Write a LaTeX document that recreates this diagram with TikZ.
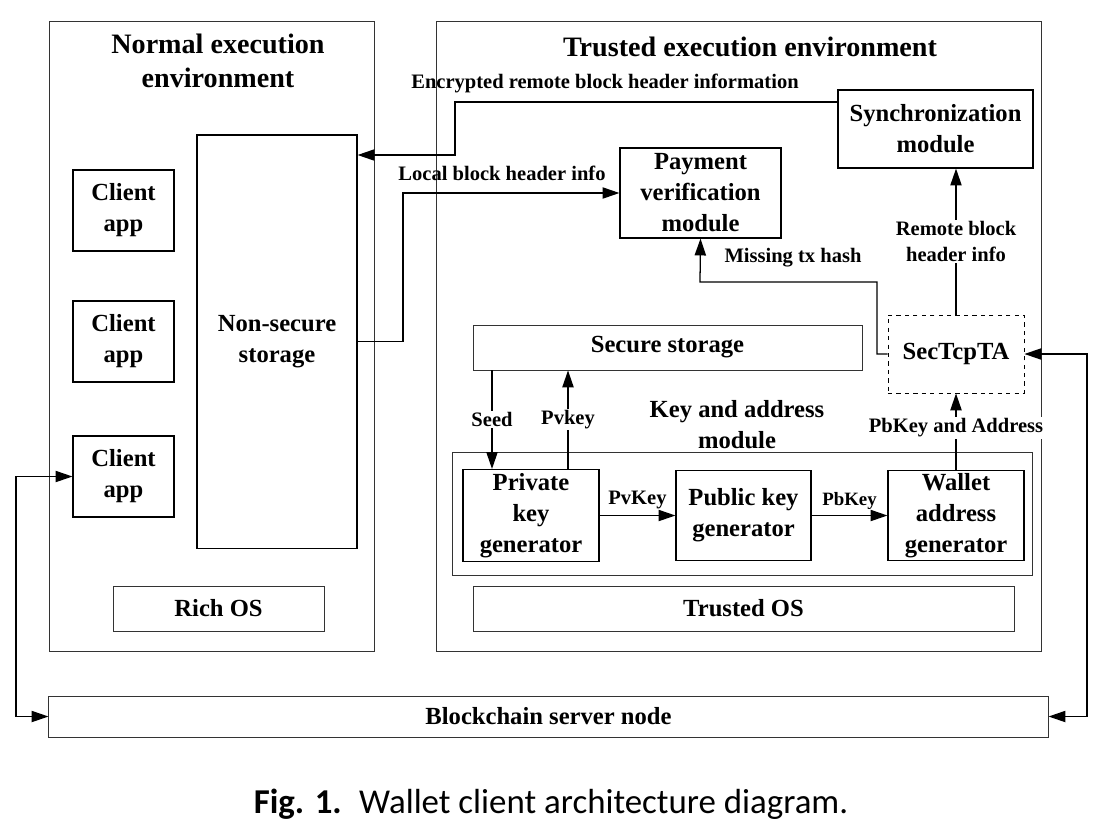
\documentclass[tikz,border=0pt]{standalone}
\usepackage{fontspec}
\setmainfont{Liberation Serif}
\newfontfamily\capfont{Carlito}
\usetikzlibrary{arrows.meta}

\begin{document}
\begin{tikzpicture}[x=0.025cm,y=-0.025cm,line width=0.9pt,
        >={Triangle[length=12pt,width=8pt]},
        frame/.style={draw=black!80,line width=0.6pt,inner sep=0pt},
        box/.style={draw,line width=0.8pt,inner sep=0pt,align=center,
          font=\fontsize{17.5}{22}\selectfont\bfseries},
        lbl/.style={inner sep=1pt,align=center,
          font=\fontsize{14.6}{18}\selectfont\bfseries},
        ttl/.style={align=center,font=\fontsize{20}{24}\selectfont\bfseries}]
  \useasboundingbox (0,0) rectangle (1102,837);
  \node[frame,minimum width=8.125cm,minimum height=15.75cm] (normal) at (211.5,336) {};
  \node[frame,minimum width=15.125cm,minimum height=15.75cm] (trusted) at (738.5,336) {};
  \node[ttl] (normaltitle) at (218,61) {Normal execution\\environment};
  \node[ttl] (trustedtitle) at (750,47) {Trusted execution environment};
  \node[box,minimum width=2.525cm,minimum height=2.025cm] (client1) at (123.5,210.5) {Client\\app};
  \node[box,minimum width=2.525cm,minimum height=2.025cm] (client2) at (123.5,341.5) {Client\\app};
  \node[box,minimum width=2.525cm,minimum height=2.025cm] (client3) at (123.5,476.5) {Client\\app};
  \node[box,minimum width=4cm,minimum height=10.325cm] (nonsec) at (277,341.5) {Non-secure\\storage};
  \node[box,frame,font=\fontsize{17.5}{22}\selectfont\bfseries,minimum width=5.275cm,minimum height=1.125cm] (richos) at (218.5,608.5) {Rich OS};
  \node[box,minimum width=4.875cm,minimum height=1.95cm] (sync) at (935.5,129) {Synchronization\\module};
  \node[box,minimum width=4.025cm,minimum height=2.25cm] (payment) at (700.5,193) {Payment\\verification\\module};
  \node[box,frame,font=\fontsize{17.5}{22}\selectfont\bfseries,minimum width=9.725cm,minimum height=1.125cm] (secure) at (667.5,347.5) {Secure storage};
  \node[box,dashed,line width=0.6pt,minimum width=3.4cm,minimum height=1.95cm] (sectcp) at (956,354) {SecTcpTA};
  \node[frame,minimum width=14.5cm,minimum height=3.075cm] (kabox) at (742,513.5) {};
  \node[ttl,font=\fontsize{17.5}{22}\selectfont\bfseries] (katitle) at (737,425) {Key and address\\module};
  \node[box,minimum width=3.4cm,minimum height=2.3cm] (privkey) at (531,515.5) {Private\\key\\generator};
  \node[box,minimum width=3.375cm,minimum height=2.25cm] (pubkey) at (743.5,515.5) {Public key\\generator};
  \node[box,minimum width=3.4cm,minimum height=2.25cm] (wallet) at (956,515.5) {Wallet\\address\\generator};
  \node[box,frame,font=\fontsize{17.5}{22}\selectfont\bfseries,minimum width=13.525cm,minimum height=1.125cm] (trustedos) at (743.5,608.5) {Trusted OS};
  \node[box,frame,font=\fontsize{17.5}{22}\selectfont\bfseries,minimum width=24.975cm,minimum height=1.025cm] (chain) at (548.5,716.5) {Blockchain server node};

  \draw[->] (sync.west |- 0,102) -| (455,155) -- (nonsec.east |- 0,155);
  \node[lbl] (enclbl) at (605,83) {Encrypted remote block header information};
  \draw[->] (nonsec.east) -| (403,193) -- (payment.west);
  \node[lbl] (locallbl) at (502,173) {Local block header info};
  \draw[->] (sectcp.west) -- (877,354) |- (700,282) -- (payment.south);
  \node[lbl] (misslbl) at (793,258) {Missing tx hash};
  \draw[->] (sectcp.north) -- (sectcp.north |- sync.south) node[lbl,midway,fill=white] (remotelbl) {Remote block\\header info};
  \draw[->] (wallet.north) -- (sectcp.south) node[lbl,pos=0.55,fill=white] (pbaddrlbl) {PbKey and Address};
  \draw[->] (secure.south -| 492,0) -- (privkey.north -| 492,0) node[lbl,midway,fill=white] (seedlbl) {Seed};
  \draw[->] (privkey.north -| 568,0) -- (secure.south -| 568,0) node[lbl,midway,fill=white] (pvlbl) {Pvkey};
  \draw[->] (privkey.east) -- (pubkey.west) node[lbl,midway,above=3pt] (pvkeylbl) {PvKey};
  \draw[->] (pubkey.east) -- (wallet.west) node[lbl,midway,above=3pt,font=\fontsize{13.4}{16}\selectfont\bfseries] (pbkeylbl) {PbKey};
  \draw[<->] (client3.west) -- (16,476.5) |- (chain.west);
  \draw[<->] (sectcp.east) -- (1087,354) |- (chain.east);

  \node[font=\capfont\fontsize{24.8}{28}\selectfont] (caption) at (551,804) {\textbf{Fig. 1.}\enspace Wallet client architecture diagram.};
\end{tikzpicture}
\end{document}
